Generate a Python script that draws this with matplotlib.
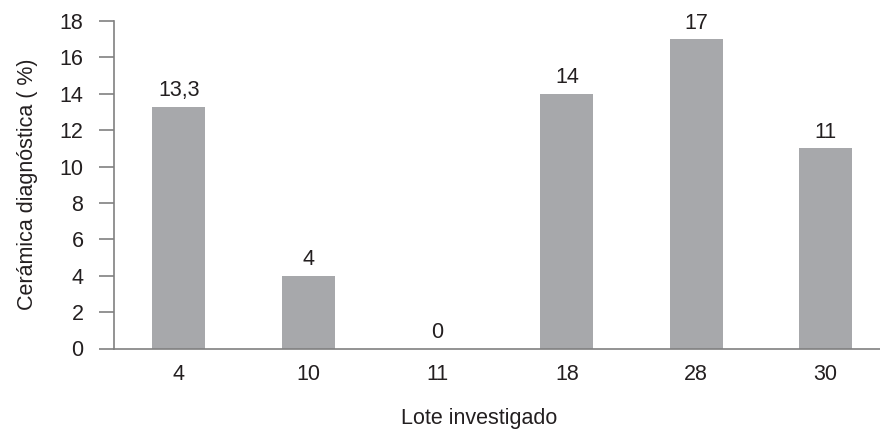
import numpy as np
import matplotlib
matplotlib.use("Agg")
import matplotlib.pyplot as plt

# porcentaje de cerámica diagnóstica por lote
lotes = ['4', '10', '11', '18', '28', '30']
porcentaje = [13.3, 4, 0, 14, 17, 11]
etiquetas = ['13,3', '4', '0', '14', '17', '11']
yticks = [0, 2, 4, 6, 8, 10, 12, 14, 16, 18]

plt.rcParams['font.family'] = ['Liberation Sans', 'DejaVu Sans']
txt = '#231f20'
gris = '#808080'
fs = 15.5

fig = plt.figure(figsize=(8.8, 4.3), dpi=100)
ax = fig.add_axes([114/880, 81.5/430, 766/880, 327.5/430])

x = np.arange(len(lotes))
bars = ax.bar(x, porcentaje, width=0.41, color='#a7a8ab', zorder=2)

for b, lab in zip(bars, etiquetas):
    ax.annotate(lab, (b.get_x() + b.get_width()/2, b.get_height()),
                xytext=(0, 4), textcoords='offset points',
                ha='center', va='bottom', fontsize=fs, color=txt)

ax.set_xlim(-0.5, -0.5 + 766/129.4)
ax.set_ylim(0, 18)
ax.set_xticks(x)
ax.set_xticklabels(lotes)
ax.set_yticks(yticks)

for s in ['top', 'right']:
    ax.spines[s].set_visible(False)
for s in ['left', 'bottom']:
    ax.spines[s].set_color(gris)
    ax.spines[s].set_linewidth(1.2)

ax.tick_params(axis='x', length=0, pad=11, labelsize=fs, colors=txt)
ax.tick_params(axis='y', length=11, width=1.2, color=gris, pad=11,
               labelsize=fs, labelcolor=txt)

ax.set_xlabel('Lote investigado', fontsize=fs, color=txt, labelpad=16.5)
ax.xaxis.label.set_x(0.477)
ax.set_ylabel('Cerámica diagnóstica ( %)', fontsize=fs, color=txt, labelpad=15.5)

fig.savefig('out.png', dpi=100)
